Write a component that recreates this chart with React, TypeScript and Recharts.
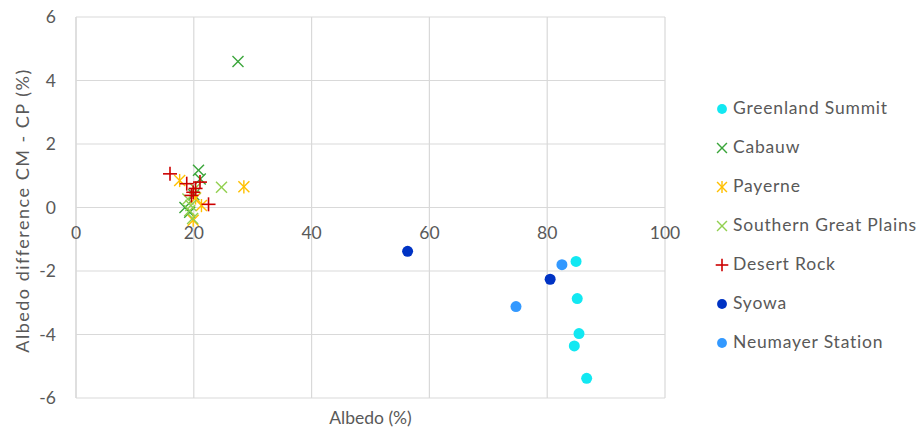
import React from 'react';
import { ScatterChart, Scatter, XAxis, YAxis, CartesianGrid } from 'recharts';

const greenland = [
  { x: 84.9, y: -1.7 }, { x: 85.1, y: -2.87 }, { x: 85.4, y: -3.97 }, { x: 84.6, y: -4.36 }, { x: 86.7, y: -5.38 },
];
const cabauw = [
  { x: 27.5, y: 4.6 }, { x: 20.8, y: 1.17 }, { x: 21.1, y: 0.9 }, { x: 20.0, y: 0.4 }, { x: 18.5, y: 0.0 }, { x: 19.3, y: -0.15 },
];
const payerne = [
  { x: 28.5, y: 0.65 }, { x: 17.6, y: 0.85 }, { x: 21.3, y: 0.06 }, { x: 19.9, y: -0.4 }, { x: 20.3, y: 0.3 },
];
const sgp = [
  { x: 24.7, y: 0.64 }, { x: 19.0, y: 0.27 }, { x: 19.5, y: 0.06 }, { x: 19.3, y: -0.1 }, { x: 19.8, y: -0.35 }, { x: 20.2, y: 0.6 },
];
const desertRock = [
  { x: 15.96, y: 1.06 }, { x: 18.8, y: 0.75 }, { x: 21.05, y: 0.8 }, { x: 19.9, y: 0.48 }, { x: 19.6, y: 0.38 }, { x: 20.3, y: 0.6 }, { x: 22.5, y: 0.1 },
];
const syowa = [
  { x: 56.3, y: -1.38 }, { x: 80.5, y: -2.26 },
];
const neumayer = [
  { x: 82.5, y: -1.8 }, { x: 74.7, y: -3.12 },
];

const xTicks = [0, 20, 40, 60, 80, 100];
const yTicks = [-6, -4, -2, 0, 2, 4, 6];

const SERIES = [
  { name: 'Greenland Summit', data: greenland, color: '#12E8F2', kind: 'circle' },
  { name: 'Cabauw', data: cabauw, color: '#3AA53A', kind: 'x' },
  { name: 'Payerne', data: payerne, color: '#FFC000', kind: 'star' },
  { name: 'Southern Great Plains', data: sgp, color: '#92D050', kind: 'x' },
  { name: 'Desert Rock', data: desertRock, color: '#CC0000', kind: 'plus' },
  { name: 'Syowa', data: syowa, color: '#0033C4', kind: 'circle' },
  { name: 'Neumayer Station', data: neumayer, color: '#3399FF', kind: 'circle' },
];

const W = 921;
const H = 430;
const M = { top: 17, right: 256, bottom: 0, left: 16 };
const YW = 60;
const XH = 32;
const PLOT_TOP = M.top;
const PLOT_H = H - M.top - M.bottom - XH;
const TEXT = '#595959';
const FONT = 'Lato, "Open Sans", sans-serif';
const FS = 17.5;

function Marker({ kind, color, cx, cy, s = 1 }: any) {
  if (kind === 'circle') return <circle cx={cx} cy={cy} r={5.5 * s} fill={color} />;
  if (kind === 'x') {
    const d = 5.5 * s;
    return (
      <g stroke={color} strokeWidth={1.4}>
        <line x1={cx - d} y1={cy - d} x2={cx + d} y2={cy + d} />
        <line x1={cx - d} y1={cy + d} x2={cx + d} y2={cy - d} />
      </g>
    );
  }
  if (kind === 'star') {
    const d = 5.5 * s;
    return (
      <g stroke={color} strokeWidth={1.4}>
        <line x1={cx - d} y1={cy - d} x2={cx + d} y2={cy + d} />
        <line x1={cx - d} y1={cy + d} x2={cx + d} y2={cy - d} />
        <line x1={cx} y1={cy - d * 1.2} x2={cx} y2={cy + d * 1.2} />
      </g>
    );
  }
  const d = 7 * s;
  return (
    <g stroke={color} strokeWidth={1.6}>
      <line x1={cx - d} y1={cy} x2={cx + d} y2={cy} />
      <line x1={cx} y1={cy - d} x2={cx} y2={cy + d} />
    </g>
  );
}

const XTick = (props: any) => {
  const { x, payload } = props;
  const zeroY = PLOT_TOP + PLOT_H / 2;
  return (
    <text x={x} y={zeroY + 31} textAnchor="middle" fill={TEXT} fontSize={FS} fontFamily={FONT}>
      {payload.value}
    </text>
  );
};

const YLabel = (props: any) => {
  const vb = props.viewBox || {};
  const cx = 22;
  const cy = vb.y + vb.height / 2 + 3;
  return (
    <text
      x={cx}
      y={cy}
      transform={`rotate(-90, ${cx}, ${cy})`}
      textAnchor="middle"
      dominantBaseline="central"
      fill={TEXT}
      fontSize={18}
      fontFamily={FONT}
      letterSpacing={1.5}
    >
      Albedo difference CM - CP (%)
    </text>
  );
};

const LegendBox = () => (
  <div style={{ position: 'absolute', left: 714, top: 88, fontFamily: FONT, fontSize: FS, color: TEXT, letterSpacing: 0.8 }}>
    {SERIES.map((s) => (
      <div key={s.name} style={{ display: 'flex', alignItems: 'center', height: 39 }}>
        <svg width={17} height={16} style={{ marginRight: 2 }}>
          <Marker kind={s.kind} color={s.color} cx={8} cy={9} s={0.9} />
        </svg>
        <span style={{ whiteSpace: 'nowrap' }}>{s.name}</span>
      </div>
    ))}
  </div>
);

export default function App() {
  return (
    <div style={{ position: 'absolute', left: 0, top: 0, width: W, height: H, background: '#fff' }}>
      <ScatterChart width={W} height={H} margin={M}>
        <CartesianGrid stroke="#D9D9D9" strokeWidth={1.2} />
        <XAxis
          type="number"
          dataKey="x"
          domain={[0, 100]}
          ticks={xTicks}
          interval={0}
          axisLine={false}
          tickLine={false}
          height={XH}
          tick={<XTick />}
          label={{ value: 'Albedo (%)', position: 'insideBottom', offset: 6, fill: TEXT, fontSize: FS, fontFamily: FONT }}
        />
        <YAxis
          type="number"
          dataKey="y"
          domain={[-6, 6]}
          ticks={yTicks}
          interval={0}
          width={YW}
          axisLine={{ stroke: '#D9D9D9', strokeWidth: 1.2 }}
          tickLine={false}
          tickSize={0}
          tickMargin={20}
          tick={{ fill: TEXT, fontSize: FS, fontFamily: FONT }}
          label={<YLabel />}
        />
        {SERIES.map((s) => (
          <Scatter
            key={s.name}
            name={s.name}
            data={s.data}
            fill={s.color}
            isAnimationActive={false}
            shape={(p: any) => <Marker kind={s.kind} color={s.color} cx={p.cx} cy={p.cy} />}
          />
        ))}
      </ScatterChart>
      <LegendBox />
    </div>
  );
}
